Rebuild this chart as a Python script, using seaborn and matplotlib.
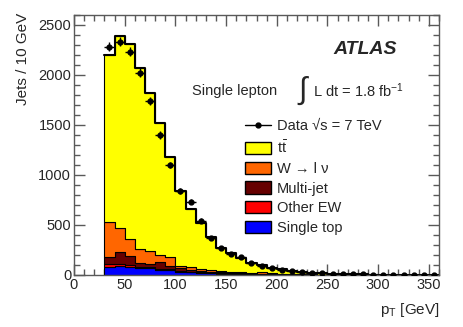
import numpy as np
import pandas as pd
import matplotlib
matplotlib.use("Agg")
import matplotlib.pyplot as plt
from matplotlib.lines import Line2D
from matplotlib.patches import Patch
from matplotlib.ticker import MultipleLocator
import seaborn as sns

# lower edges of the 10 GeV bins
bin_low = list(range(30, 360, 10))

ttbar = [1670, 1923, 1952, 1807, 1583, 1323, 997, 748, 577, 458, 333, 233, 190, 143, 99, 74,
         59, 43, 33, 25, 19, 14, 11, 8.5, 6, 4.9, 3.7, 3, 2.4, 1.9, 1.5, 1.2, 1.0]
wjets = [345, 234, 168, 146, 127, 70, 88, 25, 29, 20, 17, 14, 12, 11, 11, 16,
         8, 6, 4, 3, 2, 1.5, 1, 0.9, 0.8, 0.6, 0.5, 0.4, 0.3, 0.25, 0.2, 0.15, 0.1]
multijet = [77, 121, 87, 35, 30, 65, 38, 27, 20, 15, 12, 10, 8, 6, 5, 4,
            3, 2.5, 2, 1.5, 1.2, 1, 0.8, 0.6, 0.5, 0.4, 0.3, 0.25, 0.2, 0.15, 0.12, 0.1, 0.08]
other_ew = [25, 22, 20, 15, 13, 12, 10, 8, 6, 5, 4, 3, 2.5, 2, 1.5, 1.2,
            1, 0.8, 0.6, 0.5, 0.4, 0.3, 0.25, 0.2, 0.15, 0.12, 0.1, 0.08, 0.06, 0.05, 0.04, 0.03, 0.02]
single_top = [83, 90, 83, 67, 67, 50, 47, 35, 28, 22, 17, 13, 10, 8, 6, 5,
              4, 3, 2.5, 2, 1.5, 1.2, 1, 0.8, 0.6, 0.5, 0.4, 0.3, 0.25, 0.2, 0.15, 0.12, 0.1]

data_x = list(range(35, 360, 10))
data_y = [2283, 2335, 2235, 2025, 1740, 1400, 1100, 840, 733, 545, 370, 273, 210, 183, 120, 90,
          72, 50, 42, 30, 22, 17, 12, 11, 8, 6, 5, 4, 4, 3, 2, 2, 1]

processes = ["ttbar", "W", "Multi-jet", "Other EW", "Single top"]
labels = [r"t$\bar{\rm t}$", "W → l ν", "Multi-jet", "Other EW", "Single top"]
colors = ["#ffff00", "#ff6600", "#660000", "#ff0000", "#0000ff"]

rows = []
for name, vals in zip(processes, [ttbar, wjets, multijet, other_ew, single_top]):
    for lo, v in zip(bin_low, vals):
        rows.append({"pt": lo + 5, "w": v, "process": name})
df = pd.DataFrame(rows)

total = df.groupby("pt", as_index=False)["w"].sum()

sns.set_style("ticks")
plt.rcParams["font.family"] = ["Liberation Sans", "DejaVu Sans"]
plt.rcParams["mathtext.fontset"] = "custom"
plt.rcParams["mathtext.rm"] = "Liberation Sans"
plt.rcParams["mathtext.it"] = "Liberation Sans:italic"
plt.rcParams["mathtext.bf"] = "Liberation Sans:bold"

W, H = 463, 327
fig = plt.figure(figsize=(W / 100, H / 100), dpi=100)
ax = fig.add_axes([74 / W, 1 - 275 / H, 365 / W, 260 / H])

bins = list(range(30, 361, 10))
sns.histplot(data=df, x="pt", weights="w", hue="process", hue_order=processes,
             palette=dict(zip(processes, colors)), bins=bins, multiple="stack",
             element="step", alpha=1, edgecolor="black", linewidth=0.8,
             legend=False, ax=ax)

# thicker outline of the total prediction
sns.histplot(data=total, x="pt", weights="w", bins=bins, element="step",
             fill=False, color="black", linewidth=1.5, ax=ax)

ax.errorbar(data_x, data_y, xerr=5, yerr=np.sqrt(data_y), fmt="o", color="black",
            ms=3.5, elinewidth=1, capsize=0, zorder=5)

ax.set_xlim(0, 360)
ax.set_ylim(0, 2600)
ax.set_xlabel("")
ax.set_ylabel("")
ax.xaxis.set_major_locator(MultipleLocator(50))
ax.xaxis.set_minor_locator(MultipleLocator(10))
ax.yaxis.set_major_locator(MultipleLocator(500))
ax.yaxis.set_minor_locator(MultipleLocator(100))
ax.tick_params(which="both", direction="in", top=True, right=True, color="0.35", width=1,
               labelsize=10.5, pad=2)
ax.tick_params(which="major", length=8)
ax.tick_params(which="minor", length=4)
for s in ax.spines.values():
    s.set_color("0.35")
    s.set_linewidth(1)

handles = [Line2D([], [], color="black", marker="o", ms=3.5, lw=1)]
handles += [Patch(facecolor=c, edgecolor="black", lw=1) for c in colors]
fig.legend(handles, ["Data √s = 7 TeV"] + labels, loc="upper left",
           bbox_to_anchor=(245 / W, 1 - 119 / H), frameon=False, borderpad=0,
           borderaxespad=0, fontsize=10.5, handlelength=1.8, handleheight=0.9,
           handletextpad=0.4, labelspacing=0.4)

fig.text(397 / W, 1 - 50 / H, "ATLAS", ha="right", va="center", fontsize=14,
         weight="bold", style="italic")
fig.text(192 / W, 1 - 91 / H, "Single lepton", ha="left", va="center", fontsize=10.5)
fig.text(298 / W, 1 - 91 / H, "∫", ha="left", va="center", fontsize=22)
fig.text(313 / W, 1 - 91 / H, r"L dt = 1.8 fb$^{-1}$", ha="left", va="center", fontsize=10.5)
fig.text(440 / W, 1 - 310 / H, r"p$_{\rm T}$ [GeV]", ha="right", va="center", fontsize=11)
fig.text(23 / W, 1 - 13 / H, "Jets / 10 GeV", rotation=90, ha="center", va="top", fontsize=11)

fig.savefig("out.png", dpi=100)
